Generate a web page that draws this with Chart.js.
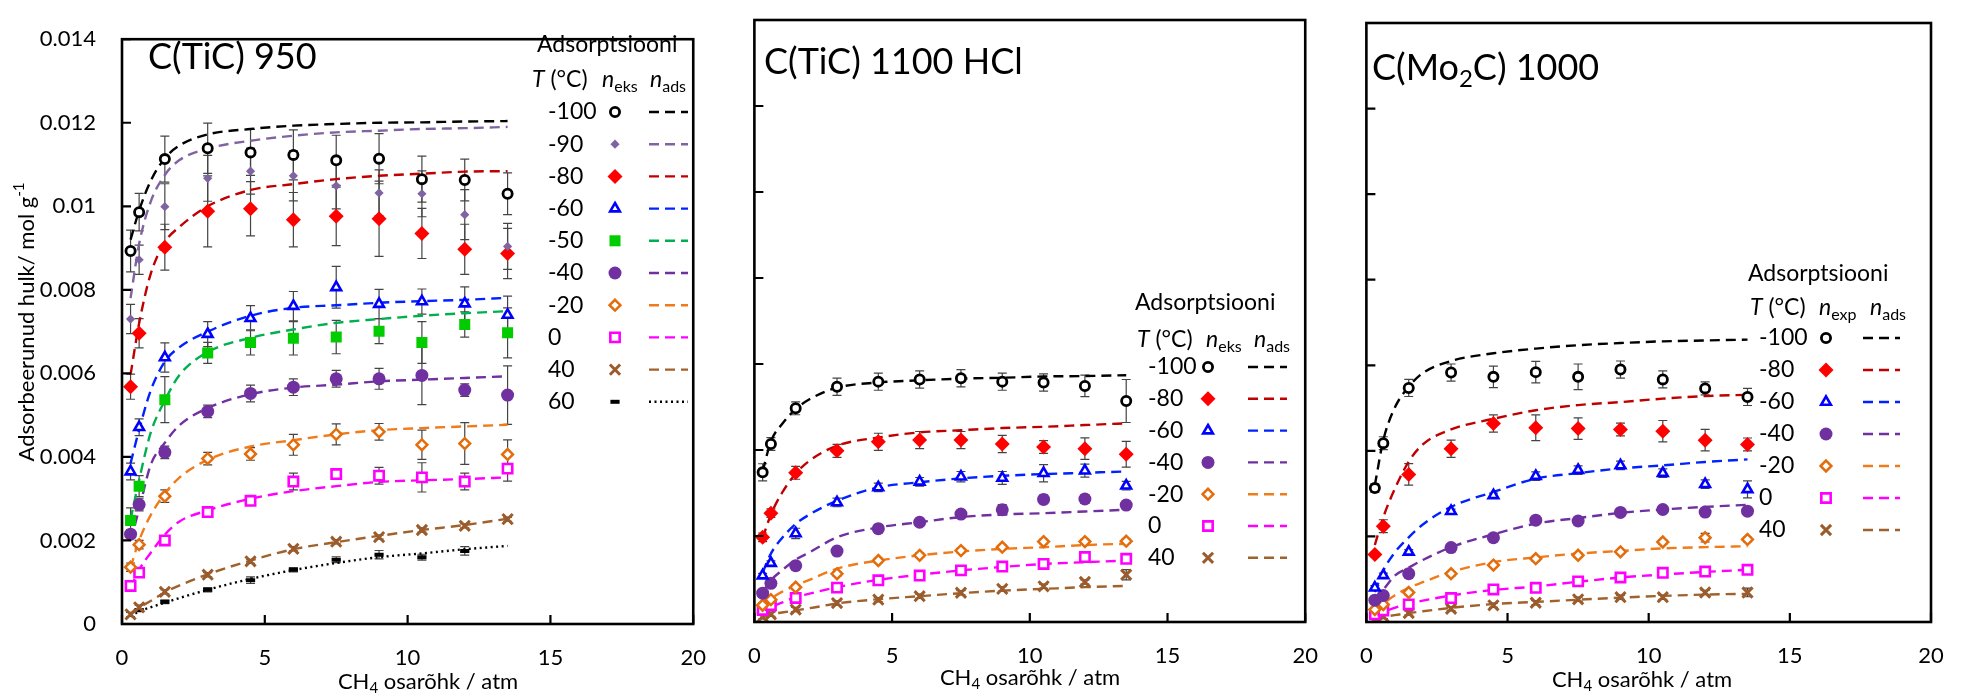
<!DOCTYPE html>
<html>
<head>
<meta charset="utf-8">
<script src="https://cdn.jsdelivr.net/npm/chart.js@4.4.1/dist/chart.umd.min.js"></script>
<style>
  html, body { margin: 0; padding: 0; background: #fff; }
  #wrap { position: relative; width: 1966px; height: 696px; overflow: hidden; }
  canvas { position: absolute; top: 0; }
</style>
</head>
<body>
<div id="wrap">
  <canvas id="tic950" width="727" height="696" style="left:0px"></canvas>
  <canvas id="tic1100" width="612" height="696" style="left:727px"></canvas>
  <canvas id="mo2c" width="627" height="696" style="left:1339px"></canvas>
</div>
<script>
// CH4 partial pressures (atm) of the measured points and of the fitted n_ads curves
const pressures = [0.3, 0.6, 1.5, 3, 4.5, 6, 7.5, 9, 10.5, 12, 13.5];
const fitPressures = [0.3, 0.6, 1, 1.5, 2, 3, 4.5, 6, 7.5, 9, 10.5, 12, 13.5];
const xTickValues = [0, 5, 10, 15, 20];
const yTickLabels = ['0', '0.002', '0.004', '0.006', '0.008', '0.01', '0.012', '0.014'];

// all amounts below in mmol/g
// C(TiC) 950
const tic950Temps = ['-100', '-90', '-80', '-60', '-50', '-40', '-20', '0', '40', '60'];
const tic950Exp = [
  [8.93, 9.86, 11.13, 11.39, 11.29, 11.23, 11.10, 11.14, 10.65, 10.63, 10.30],
  [7.30, 8.72, 9.99, 10.67, 10.84, 10.73, 10.49, 10.32, 10.30, 9.80, 9.04],
  [5.68, 6.96, 9.02, 9.88, 9.94, 9.68, 9.76, 9.70, 9.35, 8.97, 8.87],
  [3.65, 4.71, 6.38, 6.94, 7.32, 7.61, 8.06, 7.66, 7.72, 7.67, 7.40],
  [2.48, 3.30, 5.37, 6.49, 6.74, 6.84, 6.87, 7.01, 6.74, 7.17, 6.97],
  [2.15, 2.86, 4.11, 5.09, 5.52, 5.67, 5.87, 5.87, 5.95, 5.60, 5.48],
  [1.36, 1.90, 3.06, 3.96, 4.07, 4.29, 4.54, 4.60, 4.29, 4.32, 4.06],
  [0.91, 1.23, 2.00, 2.68, 2.95, 3.41, 3.59, 3.55, 3.51, 3.41, 3.72],
  [0.23, 0.40, 0.77, 1.18, 1.50, 1.80, 1.97, 2.08, 2.25, 2.35, 2.51],
  [null, 0.33, 0.53, 0.82, 1.05, 1.30, 1.54, 1.66, 1.60, 1.75, null]
];
const tic950Err = [
  [0.5, 0.45, 0.55, 0.6, 0.55, 0.6, 0.6, 0.6, 0.55, 0.5, 0.5],
  [0.35, 0.35, 0.55, 0.55, 0.55, 0.6, 0.55, 0.55, 0.55, 0.6, 0.55],
  [0.3, 0.35, 0.55, 0.85, 0.65, 0.65, 0.7, 0.9, 0.6, 0.6, 0.6],
  [0.2, 0.2, 0.35, 0.3, 0.3, 0.35, 0.5, 0.35, 0.3, 0.4, 0.45],
  [0.3, 0.25, 0.55, 0.25, 0.3, 0.4, 0.4, 0.3, 0.5, 0.3, 0.6],
  [0.1, 0.15, 0.15, 0.15, 0.2, 0.2, 0.2, 0.25, 0.7, 0.15, 0.7],
  [0.1, 0.1, 0.15, 0.15, 0.15, 0.25, 0.25, 0.2, 0.35, 0.5, 0.35],
  [0.1, 0.1, 0.1, 0.1, 0.1, 0.2, 0.12, 0.2, 0.35, 0.2, 0.3],
  [0.05, 0.05, 0.05, 0.05, 0.05, 0.05, 0.05, 0.05, 0.05, 0.05, 0.05],
  [null, 0.03, 0.04, 0.05, 0.08, 0.05, 0.07, 0.1, 0.07, 0.1, null]
];
const tic950Fit = [
  [9.2, 9.9, 10.6, 11.15, 11.45, 11.72, 11.85, 11.93, 11.97, 12.0, 12.01, 12.03, 12.04],
  [7.8, 9.1, 10.1, 10.75, 11.1, 11.38, 11.57, 11.69, 11.77, 11.81, 11.85, 11.87, 11.9],
  [5.97, 7.2, 8.37, 9.14, 9.5, 10.0, 10.39, 10.53, 10.65, 10.73, 10.78, 10.83, 10.84],
  [3.85, 4.65, 5.58, 6.28, 6.62, 7.0, 7.38, 7.57, 7.63, 7.69, 7.73, 7.76, 7.81],
  [2.5, 3.45, 4.57, 5.35, 5.95, 6.51, 6.85, 7.05, 7.21, 7.3, 7.38, 7.44, 7.49],
  [2.0, 2.75, 3.8, 4.34, 4.75, 5.17, 5.5, 5.66, 5.73, 5.81, 5.85, 5.89, 5.93],
  [1.35, 2.0, 2.6, 3.12, 3.5, 3.93, 4.25, 4.4, 4.54, 4.64, 4.69, 4.73, 4.77],
  [0.86, 1.3, 1.7, 2.14, 2.45, 2.72, 3.0, 3.18, 3.3, 3.4, 3.44, 3.47, 3.51],
  [0.22, 0.39, 0.55, 0.76, 0.92, 1.19, 1.52, 1.79, 1.96, 2.11, 2.25, 2.37, 2.52],
  [0.18, 0.3, 0.4, 0.51, 0.62, 0.82, 1.08, 1.29, 1.46, 1.6, 1.69, 1.79, 1.87]
];

// C(TiC) 1100 HCl
const tic1100Temps = ['-100', '-80', '-60', '-40', '-20', '0', '40'];
const tic1100Exp = [
  [3.48, 4.14, 4.97, 5.47, 5.59, 5.64, 5.67, 5.59, 5.57, 5.49, 5.14],
  [1.97, 2.53, 3.47, 3.98, 4.19, 4.23, 4.23, 4.14, 4.07, 4.03, 3.90],
  [1.08, 1.37, 2.06, 2.78, 3.13, 3.26, 3.38, 3.35, 3.46, 3.52, 3.17],
  [0.67, 0.90, 1.31, 1.65, 2.17, 2.32, 2.51, 2.61, 2.85, 2.86, 2.72],
  [0.39, 0.52, 0.81, 1.12, 1.43, 1.55, 1.66, 1.74, 1.87, 1.87, 1.88],
  [0.28, 0.39, 0.56, 0.80, 0.97, 1.08, 1.20, 1.29, 1.35, 1.51, 1.47],
  [0.12, 0.18, 0.29, 0.44, 0.52, 0.60, 0.68, 0.77, 0.83, 0.93, 1.10]
];
const tic1100Err = [
  [0.2, 0.15, 0.15, 0.2, 0.2, 0.2, 0.2, 0.2, 0.2, 0.25, 0.5],
  [0.1, 0.1, 0.15, 0.15, 0.2, 0.2, 0.2, 0.2, 0.15, 0.25, 0.3],
  [0.05, 0.05, 0.12, 0.1, 0.1, 0.1, 0.12, 0.15, 0.2, 0.15, 0.1],
  [0.05, 0.05, 0.05, 0.05, 0.05, 0.05, 0.08, 0.12, 0.1, 0.1, 0.05],
  [0.05, 0.05, 0.05, 0.05, 0.05, 0.05, 0.05, 0.05, 0.05, 0.05, 0.05],
  [0.05, 0.05, 0.05, 0.05, 0.05, 0.05, 0.05, 0.05, 0.05, 0.05, 0.05],
  [0.05, 0.05, 0.05, 0.05, 0.05, 0.05, 0.05, 0.05, 0.05, 0.05, 0.12]
];
const tic1100Fit = [
  [3.5, 4.2, 4.6, 4.95, 5.18, 5.45, 5.57, 5.62, 5.66, 5.68, 5.71, 5.72, 5.74],
  [1.95, 2.5, 3.0, 3.45, 3.75, 4.1, 4.29, 4.41, 4.46, 4.51, 4.54, 4.58, 4.62],
  [1.15, 1.59, 1.95, 2.28, 2.5, 2.82, 3.13, 3.25, 3.34, 3.4, 3.44, 3.47, 3.5],
  [0.7, 0.97, 1.2, 1.45, 1.62, 1.97, 2.2, 2.32, 2.44, 2.5, 2.53, 2.57, 2.61],
  [0.35, 0.54, 0.7, 0.85, 0.98, 1.24, 1.43, 1.55, 1.64, 1.7, 1.74, 1.79, 1.82],
  [0.12, 0.33, 0.45, 0.58, 0.66, 0.81, 0.98, 1.1, 1.2, 1.28, 1.35, 1.39, 1.43],
  [0.12, 0.18, 0.22, 0.27, 0.32, 0.43, 0.53, 0.6, 0.67, 0.73, 0.77, 0.81, 0.84]
];

// C(Mo2C) 1000
const mo2cTemps = ['-100', '-80', '-60', '-40', '-20', '0', '40'];
const mo2cExp = [
  [3.13, 4.18, 5.47, 5.83, 5.73, 5.84, 5.73, 5.90, 5.67, 5.46, 5.26],
  [1.58, 2.24, 3.45, 4.05, 4.64, 4.54, 4.52, 4.50, 4.46, 4.25, 4.15],
  [0.80, 1.09, 1.64, 2.59, 2.96, 3.41, 3.55, 3.66, 3.48, 3.22, 3.10],
  [0.51, 0.62, 1.13, 1.74, 1.97, 2.38, 2.36, 2.56, 2.63, 2.57, 2.59],
  [0.29, 0.41, 0.69, 1.13, 1.33, 1.48, 1.56, 1.64, 1.87, 1.97, 1.93],
  [0.18, 0.27, 0.41, 0.56, 0.76, 0.80, 0.95, 1.04, 1.15, 1.18, 1.22],
  [0.06, 0.13, 0.21, 0.31, 0.39, 0.45, 0.53, 0.58, 0.58, 0.69, 0.69]
];
const mo2cErr = [
  [0.1, 0.15, 0.2, 0.2, 0.25, 0.25, 0.3, 0.2, 0.2, 0.15, 0.2],
  [0.05, 0.15, 0.25, 0.2, 0.2, 0.3, 0.25, 0.15, 0.25, 0.25, 0.15],
  [0.05, 0.05, 0.05, 0.05, 0.05, 0.1, 0.1, 0.1, 0.1, 0.1, 0.2],
  [0.05, 0.05, 0.05, 0.05, 0.05, 0.05, 0.05, 0.08, 0.05, 0.08, 0.05],
  [0.05, 0.05, 0.05, 0.05, 0.05, 0.05, 0.05, 0.05, 0.05, 0.1, 0.05],
  [0.05, 0.05, 0.05, 0.05, 0.05, 0.05, 0.05, 0.05, 0.05, 0.05, 0.05],
  [0.05, 0.05, 0.05, 0.05, 0.05, 0.05, 0.05, 0.05, 0.05, 0.05, 0.1]
];
const mo2cFit = [
  [3.2, 4.25, 5.0, 5.5, 5.82, 6.1, 6.28, 6.39, 6.47, 6.52, 6.56, 6.58, 6.6],
  [1.8, 2.45, 3.1, 3.75, 4.15, 4.5, 4.75, 4.95, 5.07, 5.14, 5.22, 5.28, 5.31],
  [0.7, 1.2, 1.62, 1.98, 2.28, 2.69, 3.04, 3.35, 3.48, 3.59, 3.66, 3.74, 3.8],
  [0.5, 0.75, 1.08, 1.27, 1.45, 1.75, 2.05, 2.3, 2.43, 2.55, 2.63, 2.69, 2.74],
  [0.25, 0.43, 0.62, 0.8, 0.93, 1.17, 1.4, 1.51, 1.6, 1.66, 1.72, 1.75, 1.77],
  [0.1, 0.23, 0.33, 0.43, 0.5, 0.62, 0.75, 0.83, 0.94, 1.04, 1.11, 1.17, 1.22],
  [0.08, 0.12, 0.16, 0.21, 0.25, 0.33, 0.42, 0.47, 0.52, 0.57, 0.61, 0.64, 0.66]
];

// marker / line look per temperature
const styles = {
  '-100': { shape: 'circle',   r: 4.6, fill: '#ffffff', stroke: '#000000', bw: 2.8, line: '#000000' },
  '-90':  { shape: 'rectRot',  r: 4.6, fill: '#8064a2', stroke: '#8064a2', bw: 0,   line: '#8064a2' },
  '-80':  { shape: 'rectRot',  r: 7.5, fill: '#ff0000', stroke: '#ff0000', bw: 0,   line: '#c00000' },
  '-60':  { shape: 'triangle', r: 5.6, fill: '#ffffff', stroke: '#0000ff', bw: 2.6, line: '#0022ff' },
  '-50':  { shape: 'rect',     r: 7.8, fill: '#00cc00', stroke: '#00cc00', bw: 0,   line: '#00b050' },
  '-40':  { shape: 'circle',   r: 6.5, fill: '#7030a0', stroke: '#7030a0', bw: 0,   line: '#7030a0' },
  '-20':  { shape: 'rectRot',  r: 5.4, fill: '#ffffff', stroke: '#e46c0a', bw: 2.5, line: '#f07b1a' },
  '0':    { shape: 'rect',     r: 6.6, fill: '#ffffff', stroke: '#ff00ff', bw: 2.6, line: '#ff00ff' },
  '40':   { shape: 'crossRot', r: 7.2, fill: '#9c5b2a', stroke: '#9c5b2a', bw: 3,   line: '#a0622d' },
  '60':   { shape: 'line',     r: 4.6, fill: '#000000', stroke: '#000000', bw: 4,   line: '#000000', dash: [2, 3.5] }
};

const FONT = 'Lato, "Open Sans", sans-serif';

// text in pieces: ['text', ''|'i'|'sub'|'sup']
function drawRich(ctx, x, y, parts, size, align) {
  const fontFor = st => (st === 'i' ? 'italic ' : '') +
    ((st === 'sub' || st === 'sup') ? Math.round(size * 0.68) : size) + 'px ' + FONT;
  let w = 0;
  parts.forEach(p => { ctx.font = fontFor(p[1]); w += ctx.measureText(p[0]).width; });
  let cx = align === 'center' ? x - w / 2 : x;
  ctx.textAlign = 'left';
  ctx.textBaseline = 'middle';
  parts.forEach(p => {
    ctx.font = fontFor(p[1]);
    const dy = p[1] === 'sub' ? size * 0.3 : p[1] === 'sup' ? -size * 0.36 : 0;
    ctx.fillText(p[0], cx, y + dy);
    cx += ctx.measureText(p[0]).width;
  });
}

function drawMarker(ctx, st, x, y) {
  Chart.helpers.drawPoint(ctx, {
    pointStyle: st.shape, radius: st.r, borderWidth: st.bw, rotation: 0
  }, x, y);
  ctx.fillStyle = st.fill;
  ctx.strokeStyle = st.stroke;
}

const panelDecor = {
  id: 'panelDecor',
  beforeDatasetsDraw(chart) {
    // error bars under the markers
    const ctx = chart.ctx;
    const ys = chart.scales.y;
    ctx.save();
    ctx.strokeStyle = '#444';
    ctx.lineWidth = 1.2;
    chart.data.datasets.forEach((ds, i) => {
      if (!ds.errors) return;
      const meta = chart.getDatasetMeta(i);
      meta.data.forEach((pt, j) => {
        const v = ds.data[j].y, e = ds.errors[j];
        if (e == null) return;
        const top = ys.getPixelForValue(v + e), bot = ys.getPixelForValue(v - e);
        ctx.beginPath();
        ctx.moveTo(pt.x, top); ctx.lineTo(pt.x, bot);
        ctx.moveTo(pt.x - 4.5, top); ctx.lineTo(pt.x + 4.5, top);
        ctx.moveTo(pt.x - 4.5, bot); ctx.lineTo(pt.x + 4.5, bot);
        ctx.stroke();
      });
    });
    ctx.restore();
  },
  afterDraw(chart, args, opts) {
    const ctx = chart.ctx;
    const a = chart.chartArea;
    const ox = opts.offsetX;
    ctx.save();
    // frame
    ctx.strokeStyle = '#000';
    ctx.lineWidth = 2.6;
    ctx.strokeRect(a.left, a.top, a.right - a.left, a.bottom - a.top);
    // inward ticks
    ctx.lineWidth = 2.2;
    ctx.beginPath();
    chart.scales.y.ticks.forEach(t => {
      const py = chart.scales.y.getPixelForValue(t.value);
      ctx.moveTo(a.left, py); ctx.lineTo(a.left + 9, py);
    });
    xTickValues.forEach(v => {
      const px = chart.scales.x.getPixelForValue(v);
      ctx.moveTo(px, a.bottom); ctx.lineTo(px, a.bottom - 9);
    });
    ctx.stroke();

    ctx.fillStyle = '#000';
    // panel title
    drawRich(ctx, opts.title.x - ox, opts.title.y, opts.title.parts, 36, 'left');
    // axis titles
    drawRich(ctx, opts.xTitle.x - ox, opts.xTitle.y,
      [['CH', ''], ['4', 'sub'], [' osarõhk / atm', '']], 22, 'center');
    if (opts.yTitle) {
      ctx.save();
      ctx.translate(opts.yTitle.x - ox, opts.yTitle.y);
      ctx.rotate(-Math.PI / 2);
      drawRich(ctx, 0, 0, [['Adsorbeerunud hulk/ mol g', ''], ['-1', 'sup']], 22, 'center');
      ctx.restore();
    }
    // legend table
    const L = opts.legend;
    drawRich(ctx, L.headX - ox, L.headY, [['Adsorptsiooni', '']], 23, 'left');
    drawRich(ctx, L.tX - ox, L.tY, [['T', 'i'], [' (°C)', '']], 23, 'left');
    drawRich(ctx, L.nX - ox, L.tY, [['n', 'i'], [L.nSub, 'sub']], 23, 'left');
    drawRich(ctx, L.adsX - ox, L.tY, [['n', 'i'], ['ads', 'sub']], 23, 'left');
    opts.temps.forEach((t, k) => {
      const st = styles[t];
      const y = L.rowY + k * L.rowDy;
      ctx.fillStyle = '#000';
      drawRich(ctx, L.textX - ox, y, [[t, '']], 23, 'left');
      ctx.save();
      ctx.fillStyle = st.fill;
      ctx.strokeStyle = st.stroke;
      ctx.lineWidth = st.bw;
      Chart.helpers.drawPoint(ctx, { pointStyle: st.shape, radius: st.r, borderWidth: st.bw, rotation: 0 },
        L.markX - ox, y);
      ctx.restore();
      ctx.save();
      ctx.strokeStyle = st.line;
      ctx.lineWidth = 2.4;
      ctx.setLineDash(st.dash || [10, 6]);
      ctx.beginPath();
      ctx.moveTo(L.lineX1 - ox, y); ctx.lineTo(L.lineX2 - ox, y);
      ctx.stroke();
      ctx.restore();
    });
    ctx.restore();
  }
};

function makePanel(id, p) {
  const datasets = [];
  p.temps.forEach((t, k) => {
    const st = styles[t];
    datasets.push({
      label: t + ' ads',
      data: fitPressures.map((x, i) => ({ x: x, y: p.fit[k][i] / 1000 })),
      showLine: true,
      pointRadius: 0,
      borderColor: st.line,
      borderWidth: 2.4,
      borderDash: st.dash || [10, 6],
      cubicInterpolationMode: 'monotone',
      order: 2
    });
    const pts = [], errs = [];
    pressures.forEach((x, i) => {
      if (p.exp[k][i] == null) return;
      pts.push({ x: x, y: p.exp[k][i] / 1000 });
      errs.push(p.err[k][i] / 1000);
    });
    datasets.push({
      label: t,
      data: pts,
      errors: errs,
      showLine: false,
      pointStyle: st.shape,
      pointRadius: st.r,
      pointBackgroundColor: st.fill,
      pointBorderColor: st.stroke,
      pointBorderWidth: st.bw,
      order: 1
    });
  });

  return new Chart(document.getElementById(id), {
    type: 'scatter',
    data: { datasets },
    options: {
      responsive: false,
      animation: false,
      devicePixelRatio: 1,
      layout: { padding: { top: p.top, right: p.right, left: 0, bottom: 0 } },
      plugins: {
        legend: { display: false },
        tooltip: { enabled: false },
        panelDecor: p.decor
      },
      scales: {
        x: {
          type: 'linear', min: 0, max: 20,
          afterBuildTicks: s => { s.ticks = xTickValues.map(v => ({ value: v })); },
          ticks: { font: { family: FONT, size: 22 }, color: '#000', padding: 21, maxRotation: 0, autoSkip: false },
          grid: { display: false, drawTicks: false },
          border: { display: false },
          afterFit: s => { s.height = p.xh; }
        },
        y: {
          type: 'linear', min: 0, max: 0.014,
          ticks: {
            stepSize: 0.002, display: p.showY, color: '#000', padding: 26,
            font: { family: FONT, size: 22 },
            callback: (v, i) => yTickLabels[i]
          },
          grid: { display: false, drawTicks: false },
          border: { display: false },
          afterFit: s => { s.width = p.yw; }
        }
      }
    },
    plugins: [panelDecor]
  });
}

function build() {
  makePanel('tic950', {
    temps: tic950Temps, exp: tic950Exp, err: tic950Err, fit: tic950Fit,
    top: 21, right: 15, xh: 72, yw: 122, showY: true,
    decor: {
      offsetX: 0, temps: tic950Temps,
      title: { x: 148, y: 57, parts: [['C(TiC) 950', '']] },
      xTitle: { x: 428, y: 682 },
      yTitle: { x: 27, y: 322 },
      legend: { headX: 537, headY: 45, tX: 532, tY: 80, nX: 602, adsX: 650, nSub: 'eks',
        rowY: 112, rowDy: 32.2, textX: 548, markX: 615, lineX1: 649, lineX2: 688 }
    }
  });
  makePanel('tic1100', {
    temps: tic1100Temps, exp: tic1100Exp, err: tic1100Err, fit: tic1100Fit,
    top: 20, right: 20, xh: 74, yw: 15, showY: false,
    decor: {
      offsetX: 727, temps: tic1100Temps,
      title: { x: 764, y: 62, parts: [['C(TiC) 1100 HCl', '']] },
      xTitle: { x: 1030, y: 678 },
      legend: { headX: 1135, headY: 303, tX: 1137, tY: 340, nX: 1206, adsX: 1254, nSub: 'eks',
        rowY: 367, rowDy: 31.8, textX: 1148, markX: 1208, lineX1: 1248, lineX2: 1287 }
    }
  });
  makePanel('mo2c', {
    temps: mo2cTemps, exp: mo2cExp, err: mo2cErr, fit: mo2cFit,
    top: 23, right: 35, xh: 74, yw: 12, showY: false,
    decor: {
      offsetX: 1339, temps: mo2cTemps,
      title: { x: 1372, y: 68, parts: [['C(Mo', ''], ['2', 'sub'], ['C) 1000', '']] },
      xTitle: { x: 1642, y: 680 },
      legend: { headX: 1748, headY: 274, tX: 1750, tY: 308, nX: 1819, adsX: 1870, nSub: 'exp',
        rowY: 338, rowDy: 32, textX: 1759, markX: 1826, lineX1: 1863, lineX2: 1900 }
    }
  });
}

Promise.all([
  document.fonts.load('22px Lato'),
  document.fonts.load('italic 22px Lato')
]).catch(() => {}).then(build);
</script>
</body>
</html>
